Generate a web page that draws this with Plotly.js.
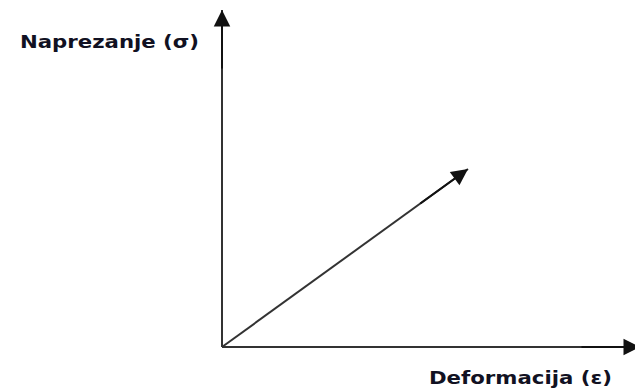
<!DOCTYPE html>
<html>
<head>
<meta charset="utf-8">
<script src="https://cdn.plot.ly/plotly-3.0.1.min.js"></script>
<style>
html,body{margin:0;padding:0;background:#fff;}
#chart{width:635px;height:389px;}
.annotation-text{transform-box:fill-box;transform-origin:0% 50%;transform:scaleX(1.25);}
</style>
</head>
<body>
<div id="chart"></div>
<script>
// Schematic stress–strain diagram (arbitrary units)
const origin = [0, 0];
const strainAxisEnd = [418, 0];     // ε axis tip
const stressAxisEnd = [0, 337];     // σ axis tip
const loadLineEnd = [246, 178];     // linear σ–ε arrow tip
const axisLabels = ["Naprezanje (σ)", "Deformacija (ε)"];

const lineColor = "#333333";
const headColor = "#111111";

function seg(p, q) {
  return {
    x: [p[0], q[0]], y: [p[1], q[1]],
    mode: "lines", type: "scatter",
    line: {color: lineColor, width: 2},
    hoverinfo: "skip", showlegend: false, cliponaxis: false
  };
}

const traces = [
  seg(origin, strainAxisEnd),
  seg(origin, stressAxisEnd),
  seg(origin, loadLineEnd)
];

function arrow(tip, tail) {
  return {
    x: tip[0], y: tip[1], ax: tail[0], ay: tail[1],
    xref: "x", yref: "y", axref: "x", ayref: "y",
    text: "", showarrow: true, arrowhead: 2, arrowsize: 1.65,
    arrowwidth: 2, arrowcolor: headColor
  };
}

const labelFont = {family: "DejaVu Sans", size: 17, color: "#111122", weight: "bold"};

const annotations = [
  arrow(strainAxisEnd, [strainAxisEnd[0] - 60, 0]),
  arrow(stressAxisEnd, [0, stressAxisEnd[1] - 60]),
  arrow(loadLineEnd, [loadLineEnd[0] * 0.8, loadLineEnd[1] * 0.8]),
  {x: -204, y: 305, xref: "x", yref: "y", text: "<b>" + axisLabels[0] + "</b>",
   showarrow: false, xanchor: "left", yanchor: "middle", font: labelFont},
  {x: 205, y: -31, xref: "x", yref: "y", text: "<b>" + axisLabels[1] + "</b>",
   showarrow: false, xanchor: "left", yanchor: "middle", font: labelFont}
];

const layout = {
  width: 635, height: 389,
  margin: {l: 0, r: 0, t: 0, b: 0},
  paper_bgcolor: "#ffffff", plot_bgcolor: "#ffffff",
  xaxis: {range: [-222, 413], visible: false, fixedrange: true},
  yaxis: {range: [-42, 347], visible: false, fixedrange: true},
  annotations: annotations,
  showlegend: false
};

Plotly.newPlot("chart", traces, layout, {staticPlot: true, displayModeBar: false});
</script>
</body>
</html>
